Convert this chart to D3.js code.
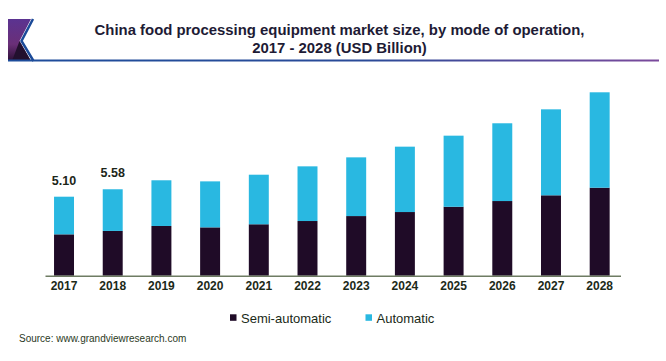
<!DOCTYPE html>
<html>
<head>
<meta charset="utf-8">
<script src="https://cdn.jsdelivr.net/npm/d3@7"></script>
<style>
	html, body { margin: 0; padding: 0; background: #fff; }
	svg { display: block; font-family: 'Liberation Sans', Arial, sans-serif; }
</style>
</head>
<body>
<svg id="chart" width="666" height="361"></svg>
<script>
const years = ['2017', '2018', '2019', '2020', '2021', '2022', '2023', '2024', '2025', '2026', '2027', '2028'];
const semiAutomatic = [2.67, 2.89, 3.21, 3.12, 3.32, 3.53, 3.85, 4.11, 4.45, 4.82, 5.19, 5.68];
const automatic = [2.43, 2.69, 2.95, 2.97, 3.20, 3.53, 3.79, 4.22, 4.59, 5.02, 5.55, 6.16];
const totalLabels = ['5.10', '5.58', '', '', '', '', '', '', '', '', '', ''];
const seriesNames = ['Semi-automatic', 'Automatic'];
const colors = ['#1f0b27', '#29b8e1'];

const svg = d3.select('#chart');
const defs = svg.append('defs');

// header: logo + title + rule
const logoGrad = defs.append('linearGradient').attr('id', 'logoGrad').attr('x1', 0).attr('y1', 0).attr('x2', 0).attr('y2', 1);
logoGrad.append('stop').attr('offset', '0%').attr('stop-color', '#5b3391');
logoGrad.append('stop').attr('offset', '60%').attr('stop-color', '#6a2f78');
logoGrad.append('stop').attr('offset', '100%').attr('stop-color', '#2a0f34');

const ruleGrad = defs.append('linearGradient').attr('id', 'ruleGrad');
ruleGrad.append('stop').attr('offset', '0%').attr('stop-color', '#1d4d9b');
ruleGrad.append('stop').attr('offset', '55%').attr('stop-color', '#2a4a98');
ruleGrad.append('stop').attr('offset', '100%').attr('stop-color', '#7b4a9c');

svg.append('polygon')
	.attr('points', '8,19 31,19 19.5,41 31,61 8,61')
	.attr('fill', 'url(#logoGrad)');
svg.append('polygon')
	.attr('points', '19.5,41 31,61 12,61')
	.attr('fill', '#22102e');
svg.append('polyline')
	.attr('points', '33,19 21.5,41 33.5,61')
	.attr('fill', 'none')
	.attr('stroke', '#1b4a98')
	.attr('stroke-width', 2.5);
svg.append('rect')
	.attr('x', 8).attr('y', 59.5).attr('width', 651).attr('height', 2)
	.attr('fill', 'url(#ruleGrad)');

const title = svg.append('text')
	.attr('text-anchor', 'middle')
	.attr('fill', '#1e1b35')
	.style('font-size', '14.9px')
	.style('font-weight', 'bold');
title.append('tspan').attr('x', 339.5).attr('y', 35).text('China food processing equipment market size, by mode of operation,');
title.append('tspan').attr('x', 339.5).attr('y', 53).text('2017 - 2028 (USD Billion)');

// scales
const x = d3.scaleBand()
	.domain(years)
	.range([44.3, 619.4])
	.paddingInner(0.59)
	.paddingOuter(0.2);

const y = d3.scaleLinear()
	.domain([0, 12])
	.range([275.7, 275.7 - 15.49 * 12]);

const table = years.map((yr, i) => ({ year: yr, semi: semiAutomatic[i], auto: automatic[i], label: totalLabels[i] }));
const stacked = d3.stack().keys(['semi', 'auto'])(table);

svg.append('g')
	.selectAll('g')
	.data(stacked)
	.join('g')
	.attr('fill', (d, i) => colors[i])
	.selectAll('rect')
	.data((d) => d)
	.join('rect')
	.attr('x', (d) => x(d.data.year))
	.attr('width', x.bandwidth())
	.attr('y', (d) => y(d[1]))
	.attr('height', (d) => y(d[0]) - y(d[1]));

// value labels
svg.append('g')
	.selectAll('text')
	.data(table.filter((d) => d.label))
	.join('text')
	.attr('x', (d) => x(d.year) + x.bandwidth() / 2)
	.attr('y', (d) => y(d.semi + d.auto) - 12)
	.attr('text-anchor', 'middle')
	.attr('fill', '#1c2619')
	.style('font-size', '12.5px')
	.style('font-weight', 'bold')
	.text((d) => d.label);

// x axis
const xAxis = svg.append('g')
	.attr('transform', `translate(0,${y(0)})`)
	.call(d3.axisBottom(x).tickSize(0).tickPadding(6));
xAxis.select('.domain')
	.attr('d', `M45.5,0.5H621`)
	.attr('stroke', '#6e7c63')
	.attr('stroke-width', 1.5);
xAxis.selectAll('text')
	.attr('fill', '#1c2a19')
	.style('font-family', "'Liberation Sans', Arial, sans-serif")
	.style('font-size', '12px')
	.style('font-weight', 'bold');

// legend
const legend = svg.append('g');
const legendX = [230, 365.5];
seriesNames.forEach((name, i) => {
	legend.append('rect')
		.attr('x', legendX[i]).attr('y', 314.3)
		.attr('width', 6.5).attr('height', 6.5)
		.attr('fill', colors[i]);
	legend.append('text')
		.attr('x', legendX[i] + 11).attr('y', 322.8)
		.attr('fill', '#1a2a17')
		.style('font-size', '13px')
		.text(name);
});

svg.append('text')
	.attr('x', 19).attr('y', 341.8)
	.attr('fill', '#2b3a24')
	.style('font-size', '10px')
	.text('Source: www.grandviewresearch.com');
</script>
</body>
</html>
